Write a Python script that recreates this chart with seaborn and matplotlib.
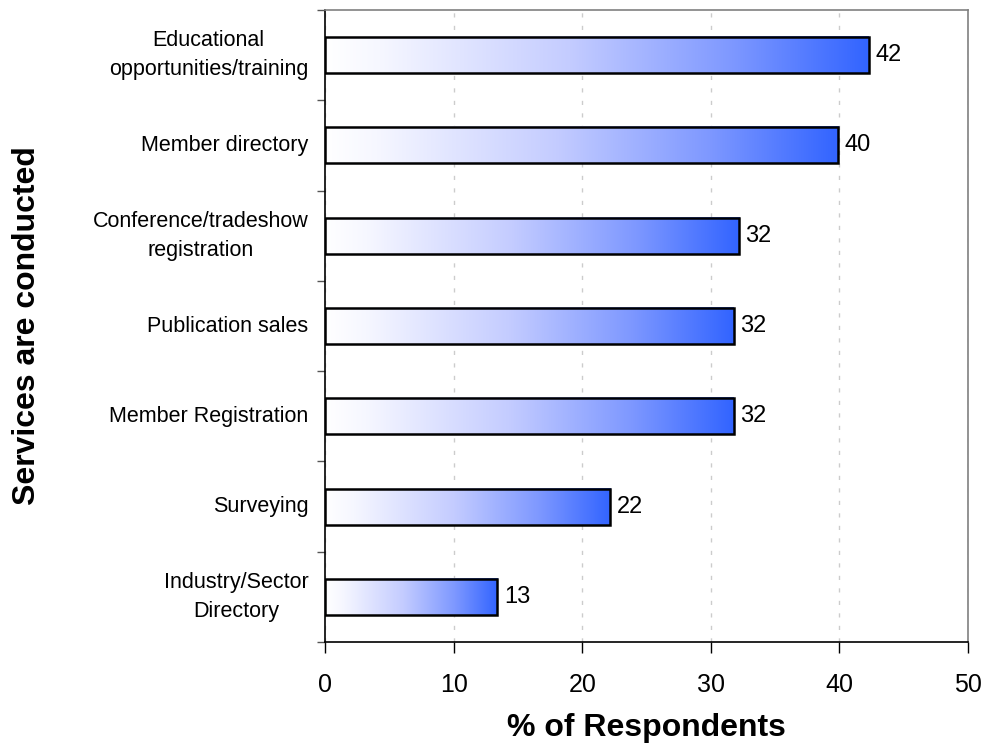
import numpy as np
import pandas as pd
import matplotlib
matplotlib.use("Agg")
import matplotlib.pyplot as plt
import seaborn as sns
from matplotlib.colors import LinearSegmentedColormap

categories = ["Educational\nopportunities/training", "Member directory",
              "Conference/tradeshow\nregistration", "Publication sales",
              "Member Registration", "Surveying", "Industry/Sector\nDirectory"]
values = [42.3, 39.9, 32.2, 31.8, 31.8, 22.2, 13.4]
labels = ["42", "40", "32", "32", "32", "22", "13"]
xticks = [0, 10, 20, 30, 40, 50]

sns.set_theme(style="white")
plt.rcParams['font.family'] = ['Liberation Sans', 'DejaVu Sans']
plt.rcParams['text.color'] = 'black'
plt.rcParams['xtick.color'] = 'black'
plt.rcParams['ytick.color'] = 'black'
plt.rcParams['axes.labelcolor'] = 'black'

df = pd.DataFrame({"cat": categories, "val": values})
fig = plt.figure(figsize=(9.89, 7.46), dpi=100)
ax = fig.add_axes([325/989, 1-642/746, (968-325)/989, (642-10)/746])

sns.barplot(data=df, y="cat", x="val", orient="h", ax=ax, width=0.4,
            fill=False, edgecolor="black", linewidth=1.8, zorder=3)

cmap = LinearSegmentedColormap.from_list("g", [(0, "#ffffff"), (0.1, "#f6f7ff"),
                                               (0.45, "#c4ccff"), (0.75, "#7e98ff"),
                                               (1, "#3264ff")])
grad = np.linspace(0, 1, 256).reshape(1, -1)
for p in ax.patches:
    x0, y0 = p.get_x(), p.get_y()
    w, h = p.get_width(), p.get_height()
    ax.imshow(grad, cmap=cmap, extent=[x0, x0 + w, y0 + h, y0],
              aspect="auto", zorder=2, interpolation="bilinear")
for i, (v, lab) in enumerate(zip(values, labels)):
    ax.text(v + 0.5, i, lab, va="center", ha="left", fontsize=17, zorder=4)

ax.set_xlim(0, 50)
ax.set_ylim(6.5, -0.5)
ax.set_xticks(xticks)
ax.set_xticklabels([str(t) for t in xticks], fontsize=18)
ax.set_yticks(range(len(categories)))
ax.set_yticklabels(categories, fontsize=15.5, ha="right", va="center",
                   multialignment="center", linespacing=1.5)
ax.tick_params(axis="y", which="major", length=0, pad=12)
ax.set_yticks(np.arange(-0.5, 7, 1), minor=True)
ax.tick_params(axis="y", which="minor", length=6, width=1, color="#555555", direction="out", left=True)
ax.tick_params(axis="x", which="major", length=8, width=1, color="black", direction="out", bottom=True, pad=14)
ax.xaxis.grid(True, linestyle=(0, (3, 6)), color="#cccccc", linewidth=1, zorder=0)
ax.set_axisbelow(True)
for s in ["left", "bottom"]:
    ax.spines[s].set_color("black")
    ax.spines[s].set_linewidth(1.2)
for s in ["top", "right"]:
    ax.spines[s].set_color("#808080")
    ax.spines[s].set_linewidth(1.2)
ax.set_xlabel("% of Respondents", fontsize=23, fontweight="bold")
ax.xaxis.set_label_coords(0.5, -0.112)
ax.set_ylabel("Services are conducted", fontsize=23, fontweight="bold")
ax.yaxis.set_label_coords(-0.44, 0.5)

fig.savefig("out.png", dpi=100)
